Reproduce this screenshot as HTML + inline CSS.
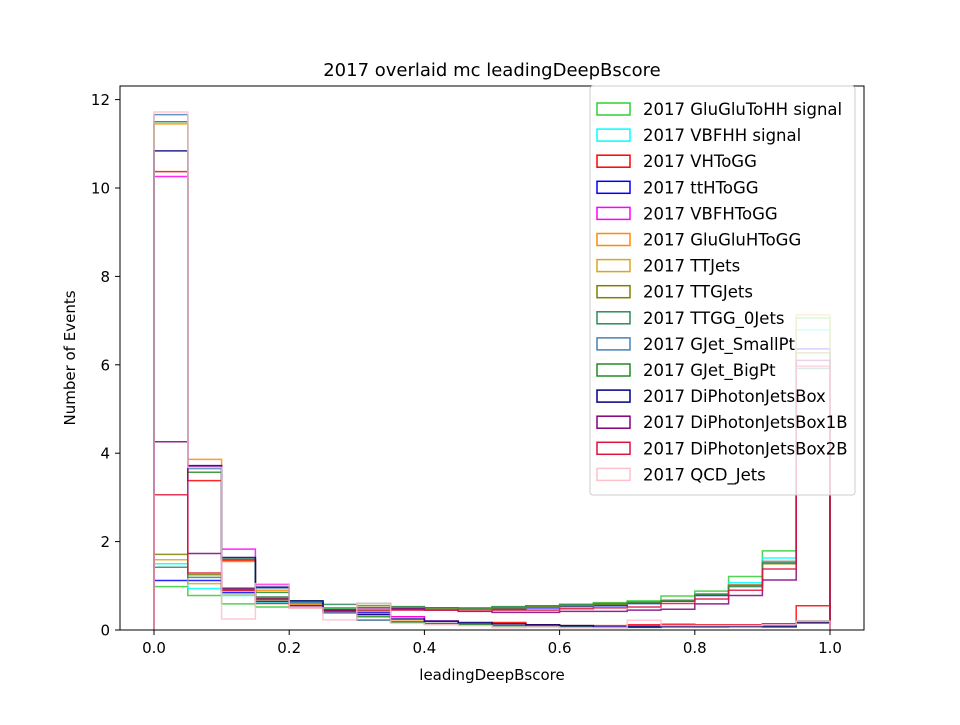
<!DOCTYPE html>
<html><head><meta charset="utf-8"><style>
html,body{margin:0;padding:0;background:#fff;}
svg text{font-family:"DejaVu Sans","Liberation Sans",sans-serif;}
</style></head><body>
<svg id="chart" width="960" height="720" xmlns="http://www.w3.org/2000/svg">
<rect width="960" height="720" fill="#fff"/>
<text x="492" y="76" font-size="18" text-anchor="middle">2017 overlaid mc leadingDeepBscore</text>
<g id="marks"></g>
<rect x="120" y="86" width="744" height="544" fill="none" stroke="#000" stroke-width="1"/>
<g id="axes"></g>
<text x="492" y="680" font-size="15" text-anchor="middle">leadingDeepBscore</text>
<text transform="translate(75,358) rotate(-90)" font-size="15" text-anchor="middle">Number of Events</text>
<g id="legend"></g>
</svg>
<script>
const names = ["2017 GluGluToHH signal","2017 VBFHH signal","2017 VHToGG","2017 ttHToGG","2017 VBFHToGG","2017 GluGluHToGG","2017 TTJets","2017 TTGJets","2017 TTGG_0Jets","2017 GJet_SmallPt","2017 GJet_BigPt","2017 DiPhotonJetsBox","2017 DiPhotonJetsBox1B","2017 DiPhotonJetsBox2B","2017 QCD_Jets"];
const colors = ["limegreen","cyan","red","blue","magenta","darkorange","goldenrod","olive","seagreen","steelblue","forestgreen","navy","purple","crimson","pink"];
const binEdges = [0,0.05,0.1,0.15,0.2,0.25,0.3,0.35,0.4,0.45,0.5,0.55,0.6,0.65,0.7,0.75,0.8,0.85,0.9,0.95,1.0];
const sGGHH = [0.98,0.78,0.59,0.52,0.55,0.48,0.45,0.47,0.48,0.49,0.52,0.55,0.58,0.62,0.66,0.77,0.88,1.21,1.79,7.06];
const sVBFHH = [1.50,0.94,0.78,0.62,0.6,0.47,0.42,0.5,0.5,0.48,0.5,0.52,0.55,0.58,0.6,0.68,0.82,1.07,1.63,6.79];
const sVH = [10.37,3.38,1.57,0.7,0.55,0.42,0.35,0.3,0.2,0.15,0.17,0.12,0.1,0.1,0.12,0.13,0.12,0.12,0.14,0.55];
const sTTH = [1.12,1.12,0.85,0.65,0.6,0.45,0.4,0.5,0.5,0.47,0.48,0.5,0.53,0.55,0.6,0.65,0.78,1.02,1.55,6.36];
const sVBFH = [10.26,3.7,1.83,1.03,0.6,0.4,0.35,0.3,0.2,0.12,0.1,0.08,0.07,0.08,0.1,0.1,0.08,0.1,0.12,0.2];
const sGGH = [11.45,3.86,1.55,0.9,0.58,0.38,0.23,0.2,0.15,0.12,0.1,0.08,0.06,0.06,0.07,0.08,0.08,0.08,0.1,0.18];
const sTTJets = [1.59,1.05,0.82,0.68,0.6,0.45,0.42,0.5,0.48,0.47,0.5,0.52,0.55,0.6,0.62,0.68,0.82,1.02,1.55,7.13];
const sTTG = [1.71,1.25,0.9,0.72,0.62,0.5,0.55,0.52,0.5,0.47,0.5,0.52,0.55,0.58,0.62,0.66,0.8,1.0,1.5,6.27];
const sTTGG = [1.42,1.19,0.95,0.75,0.62,0.58,0.6,0.53,0.5,0.5,0.53,0.55,0.58,0.6,0.63,0.66,0.8,0.98,1.52,5.92];
const sSmallPt = [11.66,3.65,1.6,0.95,0.62,0.4,0.22,0.18,0.15,0.12,0.1,0.08,0.08,0.07,0.08,0.09,0.1,0.1,0.1,0.2];
const sBigPt = [11.5,3.57,1.6,0.85,0.66,0.45,0.3,0.18,0.14,0.12,0.1,0.08,0.06,0.05,0.06,0.07,0.07,0.08,0.1,0.2];
const sDPJB = [10.84,3.72,1.64,0.97,0.66,0.45,0.35,0.25,0.2,0.17,0.14,0.12,0.1,0.06,0.07,0.08,0.08,0.08,0.07,0.16];
const sDPJB1B = [4.26,1.73,0.93,0.7,0.55,0.45,0.5,0.48,0.45,0.42,0.4,0.4,0.42,0.42,0.45,0.47,0.59,0.78,1.13,6.1];
const sDPJB2B = [3.06,1.29,0.9,0.6,0.5,0.42,0.45,0.45,0.45,0.43,0.45,0.45,0.48,0.5,0.52,0.6,0.7,0.9,1.38,5.97];
const sQCD = [11.72,3.68,0.25,1.05,0.5,0.23,0.6,0.15,0.12,0.1,0.05,0.07,0.05,0.05,0.22,0.1,0.1,0.1,0.12,0.2];
const xTicks = [0.0,0.2,0.4,0.6,0.8,1.0];
const xTickLabels = ["0.0","0.2","0.4","0.6","0.8","1.0"];
const yTicks = [0,2,4,6,8,10,12];
const yTickLabels = ["0","2","4","6","8","10","12"];

const allSeries = [sGGHH,sVBFHH,sVH,sTTH,sVBFH,sGGH,sTTJets,sTTG,sTTGG,sSmallPt,sBigPt,sDPJB,sDPJB1B,sDPJB2B,sQCD];
const NS = "http://www.w3.org/2000/svg";
function xS(v){return 154 + v*676;}
function yS(v){return 630 - v*44.2;}
function mk(tag, attrs, parent){const e=document.createElementNS(NS,tag);for(const k in attrs)e.setAttribute(k,attrs[k]);parent.appendChild(e);return e;}
const marks=document.getElementById('marks');
allSeries.forEach((vals,i)=>{
  let d="M"+xS(binEdges[0])+","+yS(0);
  vals.forEach((v,j)=>{d+=" L"+xS(binEdges[j])+","+yS(v)+" L"+xS(binEdges[j+1])+","+yS(v);});
  d+=" L"+xS(binEdges[vals.length])+","+yS(0);
  const p=mk('path',{d:d,fill:'none',stroke:colors[i],'stroke-width':1.5,'stroke-opacity':0.85},marks);
  
  
});
const axes=document.getElementById('axes');
xTicks.forEach((t,i)=>{
  const l=mk('line',{x1:xS(t),x2:xS(t),y1:630,y2:635,stroke:'#000'},axes);
  
  
  const tx=mk('text',{x:xS(t),y:653,'font-size':15,'text-anchor':'middle'},axes);
  tx.textContent=xTickLabels[i];
  
  
});
yTicks.forEach((t,i)=>{
  const l=mk('line',{x1:115,x2:120,y1:yS(t),y2:yS(t),stroke:'#000'},axes);
  
  
  const tx=mk('text',{x:110,y:yS(t)+5.5,'font-size':15,'text-anchor':'end'},axes);
  tx.textContent=yTickLabels[i];
  
  
});
const lg=document.getElementById('legend');


mk('rect',{x:590,y:86,width:265,height:409,rx:3,fill:'#fff','fill-opacity':0.8,stroke:'#ccc'},lg);
names.forEach((n,i)=>{
  const y=109+i*26.1;
  const g=mk('g',{},lg);
  
  
  mk('rect',{x:597,y:y-6,width:33,height:12,fill:'none',stroke:colors[i],'stroke-width':1.5},g);
  const t=mk('text',{x:643,y:y+6,'font-size':16.5},g);
  t.textContent=n;
});
</script>
</body></html>
